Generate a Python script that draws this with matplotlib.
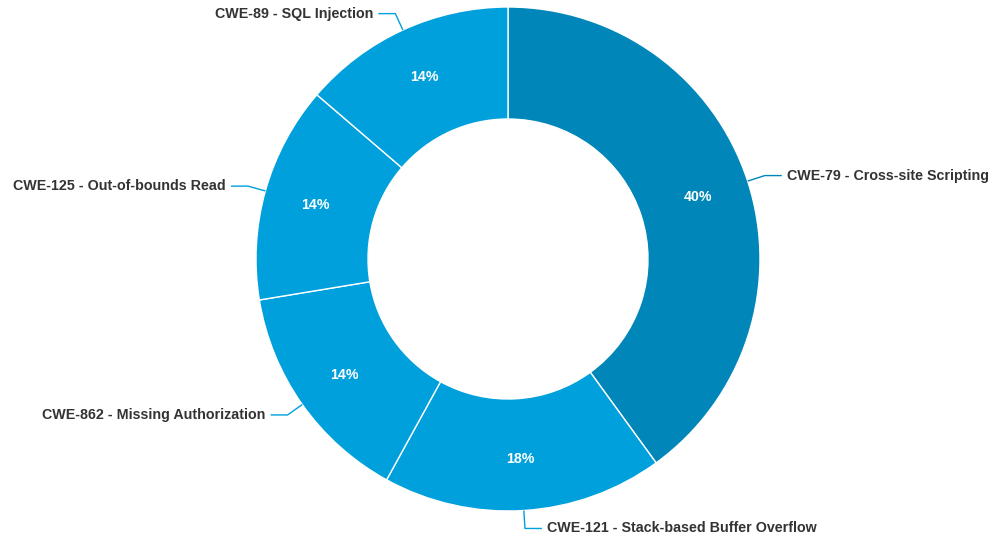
import numpy as np
import matplotlib
matplotlib.use("Agg")
import matplotlib.pyplot as plt

plt.rcParams["font.family"] = ["Liberation Sans", "DejaVu Sans"]

categories = [
    "CWE-79 - Cross-site Scripting",
    "CWE-121 - Stack-based Buffer Overflow",
    "CWE-862 - Missing Authorization",
    "CWE-125 - Out-of-bounds Read",
    "CWE-89 - SQL Injection",
]
shares = [40.0, 18.0, 14.4, 13.9, 13.7]
colors = ["#0086B8", "#00A0DC", "#00A0DC", "#00A0DC", "#00A0DC"]

W, H = 995, 539
CX, CY = 508, H - 259
R_OUT, R_IN = 252, 140

fig = plt.figure(figsize=(W / 100, H / 100), dpi=100)
ax = fig.add_axes([0, 0, 1, 1])

wedges, _, pcts = ax.pie(
    shares, colors=colors, startangle=90, counterclock=False,
    center=(CX, CY), radius=R_OUT, autopct="%.0f%%",
    pctdistance=200 / R_OUT,
    wedgeprops=dict(width=R_OUT - R_IN, edgecolor="white", linewidth=1),
    textprops=dict(color="white", fontsize=10.2, fontweight="bold"),
    frame=True,
)
ax.set_xlim(0, W)
ax.set_ylim(0, H)
ax.set_aspect("equal")
ax.axis("off")

# connectors + outside labels
for w, label, col in zip(wedges, categories, colors):
    mid = np.deg2rad((w.theta1 + w.theta2) / 2)
    dx, dy = np.cos(mid), np.sin(mid)
    x0, y0 = CX + R_OUT * dx, CY + R_OUT * dy
    x1, y1 = CX + (R_OUT + 18) * dx, CY + (R_OUT + 18) * dy
    side = 1 if dx >= 0 else -1
    x2 = x1 + side * 17
    ax.plot([x0, x1, x2], [y0, y1, y1], color=col, lw=1, solid_capstyle="butt")
    ax.text(x2 + side * 5, y1, label, ha="left" if side > 0 else "right",
            va="center", fontsize=10.3, fontweight="bold", color="#333333")

fig.savefig("out.png", dpi=100)
plt.close(fig)
